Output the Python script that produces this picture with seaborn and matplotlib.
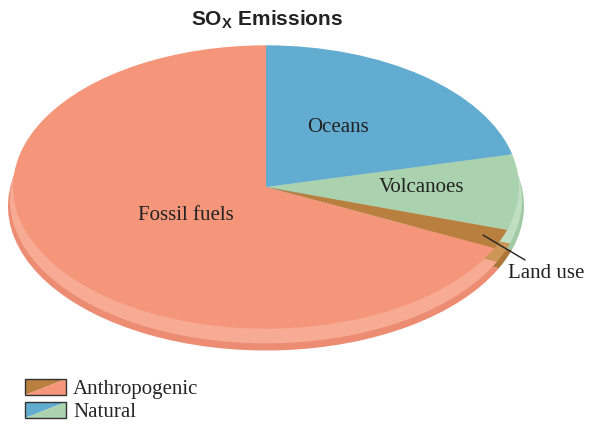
import matplotlib
matplotlib.use("Agg")
import matplotlib.pyplot as plt
import seaborn as sns
from matplotlib.legend_handler import HandlerBase
from matplotlib.patches import Polygon, Rectangle, Patch

# data (shares, %)
sources = ["Oceans", "Volcanoes", "Land use", "Fossil fuels"]
shares = [21.3, 8.6, 2.2, 67.9]
groups = ["Anthropogenic", "Natural"]

face_cols = ["#63acd1", "#aad2ae", "#b87f3f", "#f5967a"]
rim_cols = ["#80bcdb", "#bfdec2", "#cc9756", "#f7ab94"]
edge_cols = ["#5fa3c8", "#a0c9a4", "#ad7638", "#ec8c72"]

sns.set_style("white")
plt.rcParams["font.family"] = ["Liberation Serif", "DejaVu Serif"]
plt.rcParams["mathtext.fontset"] = "custom"
plt.rcParams["mathtext.bf"] = "Liberation Sans:bold"

W, H = 590, 428
k = 0.56  # vertical squash of the pie


def to_data(px, py):
    return px, (H - py) / k


fig = plt.figure(figsize=(W / 100, H / 100), dpi=100)
ax = fig.add_axes([0, 0, 1, 1])

# rim layers then top face
layers = [((266, 206), 258, edge_cols), ((266, 200), 256, rim_cols), ((266, 187), 253, face_cols)]
for (cx, cy), r, cols in layers:
    ax.pie(shares, colors=cols, startangle=90, counterclock=False,
           center=to_data(cx, cy), radius=r, wedgeprops=dict(linewidth=0))

ax.set_aspect("auto")
ax.set_xlim(0, W)
ax.set_ylim(0, H / k)
ax.axis("off")

fs = 15
ax.text(*to_data(338, 128), "Oceans", fontsize=fs, ha="center", va="center", color="#222222")
ax.text(*to_data(422, 188), "Volcanoes", fontsize=fs, ha="center", va="center", color="#222222")
ax.text(*to_data(186, 215), "Fossil fuels", fontsize=fs, ha="center", va="center", color="#222222")
ax.text(*to_data(546, 274), "Land use", fontsize=fs, ha="center", va="center", color="#222222")
x0, y0 = to_data(483, 235)
x1, y1 = to_data(525, 260)
ax.plot([x0, x1], [y0, y1], color="#222222", lw=1)

fig.text(267 / W, 1 - 20 / H, r"SO$_\mathbf{X}$ Emissions", fontsize=15, fontweight="bold",
         family="Liberation Sans", ha="center", va="center", color="#222222")


class SplitHandler(HandlerBase):
    def __init__(self, c1, c2):
        super().__init__()
        self.c1, self.c2 = c1, c2

    def create_artists(self, legend, orig_handle, xdescent, ydescent, width, height, fontsize, trans):
        x, y = -xdescent, -ydescent
        t1 = Polygon([[x, y], [x, y + height], [x + width, y + height]], closed=True,
                     fc=self.c1, ec="none", transform=trans)
        t2 = Polygon([[x, y], [x + width, y], [x + width, y + height]], closed=True,
                     fc=self.c2, ec="none", transform=trans)
        box = Rectangle((x, y), width, height, fill=False, ec="#333333", lw=1, transform=trans)
        return [t1, t2, box]


h1 = Patch()
h2 = Patch()
fig.legend([h1, h2], groups, loc="lower left", bbox_to_anchor=(25 / W, 6 / H),
           bbox_transform=fig.transFigure, frameon=False, fontsize=fs,
           handlelength=1.95, handleheight=0.8, handletextpad=0.35, labelspacing=0.12,
           borderpad=0, borderaxespad=0,
           handler_map={h1: SplitHandler(face_cols[2], face_cols[3]),
                        h2: SplitHandler(face_cols[0], face_cols[1])})

fig.savefig("out.png", dpi=100)
